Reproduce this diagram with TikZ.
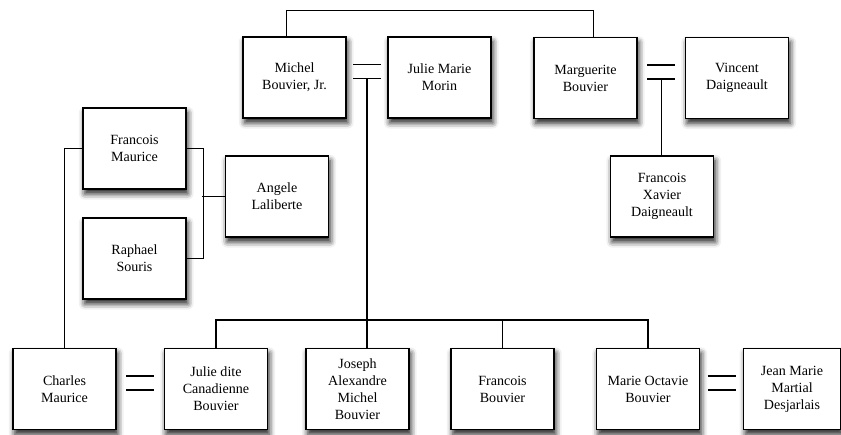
\documentclass[tikz,border=0pt]{standalone}
\usepackage{fontspec}
\setmainfont{Liberation Serif}
\usetikzlibrary{calc,shadows.blur}

\begin{document}
\begin{tikzpicture}[x=0.03cm,y=-0.03cm,
	person/.style={draw,line width=1pt,fill=white,minimum width=3.09cm,minimum height=2.43cm,
		align=center,inner sep=2pt,font=\fontsize{12}{14.5}\selectfont,
		blur shadow={shadow xshift=1.5pt,shadow yshift=-4pt,shadow blur radius=5pt,shadow opacity=90}},
	link/.style={line width=1pt}]

	\useasboundingbox (0,0) rectangle (841,434);

	% top generation
	\node[person] (mbj) at (294.5,77.5) {Michel\\Bouvier, Jr.};
	\node[person] (jmm) at (439.5,77.5) {Julie Marie\\Morin};
	\node[person] (mb) at (585.5,78) {Marguerite\\Bouvier};
	\node[person] (vd) at (737,78) {Vincent\\Daigneault};
	\node[person] (fxd) at (662,196.5) {Francois\\Xavier\\Daigneault};

	% left side
	\node[person] (fm) at (134.5,148.5) {Francois\\Maurice};
	\node[person] (rs) at (134.5,258.5) {Raphael\\Souris};
	\node[person] (al) at (277,196.5) {Angele\\Laliberte};

	% bottom row
	\node[person] (cm) at (64.5,389) {Charles\\Maurice};
	\node[person] (jdc) at (216,389) {Julie dite\\Canadienne\\Bouvier};
	\node[person] (jamb) at (357.5,389) {Joseph\\Alexandre\\Michel\\Bouvier};
	\node[person] (fb) at (502.5,389) {Francois\\Bouvier};
	\node[person] (mob) at (648,389) {Marie Octavie\\Bouvier};
	\node[person,minimum width=2.9cm] (jmmd) at (792,389) {Jean Marie\\Martial\\Desjarlais};

	% marriages
	\foreach \a/\b/\m in {mbj/jmm/w1, mb/vd/w2, cm/jdc/w3, mob/jmmd/w4}{
		\coordinate (\m) at ($(\a.east)!0.5!(\b.west)$);
		\draw[link] ($(\m)+(-14,-13)$) -- ++(28,0);
		\draw[link] ($(\m)+(-14,1)$) -- ++(28,0);
	}

	% siblings and children
	\draw[link] ([xshift=-0.25cm]mbj.north) -- ++(0,-26) -| ([xshift=0.25cm]mb.north);
	\draw[link] ($(w1)+(0,1)$) -- (w1 |- jamb.north);
	\draw[link] ($(w2)+(0,1)$) -- (w2 |- fxd.north);
	\draw[link] (jdc.north) -- ++(0,-28) -| (mob.north);
	\draw[link] (fb.north) -- ++(0,-28);
	\draw[link] (fm.east) -- ++(17,0) |- (rs.east);
	\draw[link] (al.west) -- ++(-23,0);
	\draw[link] (fm.west) -| (cm.north);

\end{tikzpicture}
\end{document}
